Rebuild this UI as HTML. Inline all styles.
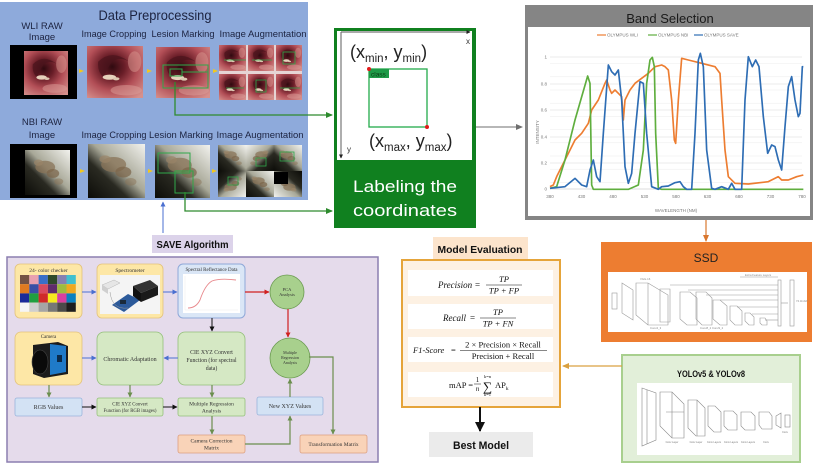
<!DOCTYPE html>
<html><head><meta charset="utf-8"><style>
html,body{margin:0;padding:0;background:#fff;}
svg{display:block}
text{font-family:"Liberation Sans",sans-serif}
.s, .s text, text.s{font-family:"Liberation Serif",serif}
</style></head><body>
<svg width="821" height="472" viewBox="0 0 821 472" xmlns="http://www.w3.org/2000/svg" xmlns:xlink="http://www.w3.org/1999/xlink">
<defs>
<marker id="ag" markerWidth="7" markerHeight="6" refX="6" refY="3" orient="auto" markerUnits="userSpaceOnUse"><path d="M0,0 L7,3 L0,6 Z" fill="#2e8b2e"/></marker>
<marker id="agr" markerWidth="7" markerHeight="6" refX="6" refY="3" orient="auto" markerUnits="userSpaceOnUse"><path d="M0,0 L7,3 L0,6 Z" fill="#6f6f6f"/></marker>
<marker id="aor" markerWidth="7" markerHeight="6" refX="6" refY="3" orient="auto" markerUnits="userSpaceOnUse"><path d="M0,0 L7,3 L0,6 Z" fill="#d9772e"/></marker>
<marker id="agd" markerWidth="7" markerHeight="6" refX="6" refY="3" orient="auto" markerUnits="userSpaceOnUse"><path d="M0,0 L7,3 L0,6 Z" fill="#d9a040"/></marker>
<marker id="abk" markerWidth="10" markerHeight="10" refX="9" refY="5" orient="auto" markerUnits="userSpaceOnUse"><path d="M0,0 L10,5 L0,10 Z" fill="#111"/></marker>
<marker id="abk2" markerWidth="5" markerHeight="5" refX="4.5" refY="2.5" orient="auto" markerUnits="userSpaceOnUse"><path d="M0,0 L5,2.5 L0,5 Z" fill="#111"/></marker>
<marker id="abl" markerWidth="5" markerHeight="5" refX="4.5" refY="2.5" orient="auto" markerUnits="userSpaceOnUse"><path d="M0,0 L5,2.5 L0,5 Z" fill="#4a6fd0"/></marker>
<marker id="ard" markerWidth="5" markerHeight="5" refX="4.5" refY="2.5" orient="auto" markerUnits="userSpaceOnUse"><path d="M0,0 L5,2.5 L0,5 Z" fill="#d02020"/></marker>
<marker id="aol" markerWidth="5" markerHeight="5" refX="4.5" refY="2.5" orient="auto" markerUnits="userSpaceOnUse"><path d="M0,0 L5,2.5 L0,5 Z" fill="#6b8e4e"/></marker>
<marker id="aax" markerWidth="4" markerHeight="4" refX="3.5" refY="2" orient="auto" markerUnits="userSpaceOnUse"><path d="M0,0 L4,2 L0,4 Z" fill="#222"/></marker>

<radialGradient id="gw" cx="0.45" cy="0.4" r="0.75">
 <stop offset="0" stop-color="#300a10"/>
 <stop offset="0.3" stop-color="#6a1e28"/>
 <stop offset="0.6" stop-color="#b24e56"/>
 <stop offset="1" stop-color="#d6908c"/>
</radialGradient>
<linearGradient id="gn" x1="0" y1="1" x2="1" y2="0">
 <stop offset="0" stop-color="#0c0c08"/>
 <stop offset="0.35" stop-color="#2a2a22"/>
 <stop offset="0.55" stop-color="#a8a898"/>
 <stop offset="1" stop-color="#f2f2ee"/>
</linearGradient>

<symbol id="wli" viewBox="0 0 100 100" preserveAspectRatio="none">
 <rect width="100" height="100" fill="url(#gw)"/>
 <path d="M20 30 Q45 5 75 30 Q60 20 45 30 Q35 45 30 60 Q18 50 20 30Z" fill="#4a141c" opacity=".7"/>
 <ellipse cx="40" cy="60" rx="12" ry="5" fill="#e6d2bc"/>
 <ellipse cx="52" cy="63" rx="6" ry="3" fill="#dcc6b0"/>
 <ellipse cx="70" cy="85" rx="28" ry="10" fill="#dca09a" opacity=".5"/>
 <ellipse cx="85" cy="30" rx="12" ry="20" fill="#d89890" opacity=".5"/>
</symbol>
<symbol id="nbi" viewBox="0 0 100 100" preserveAspectRatio="none">
 <rect width="100" height="100" fill="url(#gn)"/>
 <ellipse cx="45" cy="38" rx="22" ry="14" fill="#8a7458" opacity=".75"/>
 <ellipse cx="62" cy="52" rx="14" ry="10" fill="#7a6448" opacity=".7"/>
 <ellipse cx="30" cy="28" rx="10" ry="7" fill="#9a8468" opacity=".7"/>
 <ellipse cx="75" cy="70" rx="10" ry="7" fill="#8a7458" opacity=".5"/>
</symbol>
</defs>

<!-- ============ DATA PREPROCESSING ============ -->
<rect x="0" y="2" width="308" height="198" fill="#8eaadb"/>
<text x="155" y="20" font-size="14" text-anchor="middle" fill="#1c2340" textLength="113" lengthAdjust="spacingAndGlyphs">Data Preprocessing</text>
<g font-size="9.5" fill="#1c2340" text-anchor="middle">
 <text x="42" y="29">WLI RAW</text>
 <text x="42" y="40">Image</text>
 <text x="114" y="37" textLength="65" lengthAdjust="spacingAndGlyphs">Image Cropping</text>
 <text x="183" y="37" textLength="63" lengthAdjust="spacingAndGlyphs">Lesion Marking</text>
 <text x="263" y="37" textLength="87" lengthAdjust="spacingAndGlyphs">Image Augmentation</text>
 <text x="42" y="125">NBI RAW</text>
 <text x="42" y="138">Image</text>
 <text x="114" y="138" textLength="65" lengthAdjust="spacingAndGlyphs">Image Cropping</text>
 <text x="181" y="138" textLength="64" lengthAdjust="spacingAndGlyphs">Lesion Marking</text>
 <text x="260" y="138" textLength="87" lengthAdjust="spacingAndGlyphs">Image Augmentation</text>
</g>
<!-- row 1 -->
<rect x="10" y="45" width="67" height="54" fill="#000"/>
<use href="#wli" xlink:href="#wli" x="24" y="51" width="44" height="44"/>
<use href="#wli" xlink:href="#wli" x="87" y="46" width="56" height="52"/>
<use href="#wli" xlink:href="#wli" x="156" y="47" width="54" height="51"/>
<rect x="163" y="65" width="45" height="23" fill="none" stroke="#2fa84a" stroke-width="1"/>
<rect x="170" y="69" width="12" height="7" fill="none" stroke="#2fa84a" stroke-width="1"/>
<line x1="182" y1="72" x2="208" y2="72" stroke="#2fa84a" stroke-width="1"/>
<rect x="219" y="45" width="83" height="55" fill="#e6d4d4"/>
<use href="#wli" xlink:href="#wli" x="219" y="45" width="27" height="26"/>
<use href="#wli" xlink:href="#wli" x="248" y="45" width="26" height="26"/>
<use href="#wli" xlink:href="#wli" x="276" y="45" width="26" height="26"/>
<use href="#wli" xlink:href="#wli" x="219" y="74" width="27" height="26"/>
<use href="#wli" xlink:href="#wli" x="248" y="74" width="26" height="26"/>
<use href="#wli" xlink:href="#wli" x="276" y="74" width="26" height="26"/>
<g stroke="#2fa84a" stroke-width=".8" fill="none">
 <line x1="224" y1="60" x2="246" y2="60"/><line x1="252" y1="60" x2="272" y2="60"/>
 <rect x="283" y="52" width="12" height="12"/><line x1="226" y1="88" x2="244" y2="88"/>
 <rect x="256" y="80" width="10" height="12"/><line x1="280" y1="88" x2="300" y2="88"/>
</g>
<!-- row 2 -->
<rect x="10" y="144" width="67" height="54" fill="#000"/>
<use href="#nbi" xlink:href="#nbi" x="25" y="150" width="45" height="45"/>
<use href="#nbi" xlink:href="#nbi" x="88" y="144" width="57" height="54"/>
<use href="#nbi" xlink:href="#nbi" x="155" y="145" width="55" height="53"/>
<rect x="158" y="153" width="32" height="20" fill="none" stroke="#2fa84a" stroke-width="1"/>
<rect x="175" y="171" width="18" height="22" fill="none" stroke="#2fa84a" stroke-width="1"/>
<rect x="218" y="145" width="84" height="52" fill="#d8d8ce"/>
<use href="#nbi" xlink:href="#nbi" x="218" y="145" width="28" height="26"/>
<use href="#nbi" xlink:href="#nbi" x="246" y="145" width="28" height="26" transform="translate(520 0) scale(-1 1)"/>
<use href="#nbi" xlink:href="#nbi" x="274" y="145" width="28" height="26"/>
<use href="#nbi" xlink:href="#nbi" x="218" y="171" width="28" height="26" transform="translate(0 368) scale(1 -1)"/>
<use href="#nbi" xlink:href="#nbi" x="246" y="171" width="28" height="26"/>
<use href="#nbi" xlink:href="#nbi" x="274" y="171" width="28" height="26" transform="translate(576 368) scale(-1 -1)"/>
<rect x="274" y="172" width="14" height="12" fill="#000"/>
<g stroke="#2fa84a" stroke-width=".8" fill="none">
 <rect x="280" y="152" width="14" height="9"/><rect x="228" y="177" width="10" height="8"/><rect x="256" y="158" width="10" height="8"/>
</g>
<!-- small yellow arrows -->
<g fill="#f2c81e">
 <path d="M79 69 L84 71 L79 73Z"/><path d="M147 69 L152 71 L147 73Z"/><path d="M213 69 L218 71 L213 73Z"/>
 <path d="M80 169 L85 171 L80 173Z"/><path d="M148 169 L153 171 L148 173Z"/><path d="M212 169 L217 171 L212 173Z"/>
</g>
<!-- green connectors -->
<polyline points="175,82 175,115 332,115" fill="none" stroke="#2e8b2e" stroke-width="1.3" marker-end="url(#ag)"/>
<polyline points="185,192 185,211 332,211" fill="none" stroke="#2e8b2e" stroke-width="1.3" marker-end="url(#ag)"/>
<!-- blue up arrow from SAVE -->
<line x1="163" y1="233" x2="163" y2="202" stroke="#4a6fd0" stroke-width="1" marker-end="url(#abl)"/>

<!-- ============ LABELING BOX ============ -->
<rect x="334" y="28" width="142" height="200" fill="#10801f"/>
<rect x="337" y="31" width="135" height="129" fill="#fff"/>
<line x1="341" y1="32" x2="470" y2="32" stroke="#777" stroke-width="1.2" marker-end="url(#aax)"/>
<line x1="341" y1="32" x2="341" y2="158" stroke="#777" stroke-width="1.2" marker-end="url(#aax)"/>
<text x="466" y="44" font-size="8" fill="#333">x</text>
<text x="347" y="152" font-size="8" fill="#333">y</text>
<text x="350" y="58" font-size="18" fill="#222">(x<tspan font-size="11.5" dy="4">min</tspan><tspan dy="-4">, y</tspan><tspan font-size="11.5" dy="4">min</tspan><tspan dy="-4">)</tspan></text>
<rect x="369" y="69" width="58" height="58" fill="none" stroke="#22aa4a" stroke-width="1.3"/>
<rect x="369" y="69" width="20" height="9" fill="#1f9a48"/>
<text x="371" y="76.5" font-size="6.5" fill="#0a3a14">class</text>
<circle cx="369" cy="69" r="2" fill="#e21b1b"/>
<circle cx="427" cy="127" r="2" fill="#e21b1b"/>
<text x="369" y="147" font-size="18" fill="#222">(x<tspan font-size="11.5" dy="4">max</tspan><tspan dy="-4">, y</tspan><tspan font-size="11.5" dy="4">max</tspan><tspan dy="-4">)</tspan></text>
<text x="405" y="192" font-size="17" fill="#fff" text-anchor="middle" textLength="104" lengthAdjust="spacingAndGlyphs">Labeling the</text>
<text x="405" y="216" font-size="17" fill="#fff" text-anchor="middle" textLength="104" lengthAdjust="spacingAndGlyphs">coordinates</text>
<line x1="476" y1="127" x2="522" y2="127" stroke="#6f6f6f" stroke-width="1" marker-end="url(#agr)"/>

<!-- ============ BAND SELECTION ============ -->
<rect x="525" y="5" width="288" height="215" fill="#858585"/>
<rect x="528" y="27" width="282" height="189" fill="#fff"/>
<text x="670" y="23" font-size="13" text-anchor="middle" fill="#1a1a1a">Band Selection</text>
<g font-size="4.5" fill="#777">
 <line x1="597" y1="35" x2="606" y2="35" stroke="#ed7d31" stroke-width="1.2"/><text x="607" y="36.5">OLYMPUS WLI</text>
 <line x1="648" y1="35" x2="657" y2="35" stroke="#5fae3e" stroke-width="1.2"/><text x="658" y="36.5">OLYMPUS NBI</text>
 <line x1="694" y1="35" x2="703" y2="35" stroke="#2e6db4" stroke-width="1.2"/><text x="704" y="36.5">OLYMPUS SAVE</text>
</g>
<g stroke="#ececec" stroke-width=".5">
 <line x1="550" y1="182.4" x2="802" y2="182.4"/><line x1="550" y1="169.2" x2="802" y2="169.2"/>
 <line x1="550" y1="156" x2="802" y2="156"/><line x1="550" y1="142.8" x2="802" y2="142.8"/>
 <line x1="550" y1="129.6" x2="802" y2="129.6"/><line x1="550" y1="116.4" x2="802" y2="116.4"/>
 <line x1="550" y1="103.2" x2="802" y2="103.2"/><line x1="550" y1="90" x2="802" y2="90"/>
 <line x1="550" y1="76.8" x2="802" y2="76.8"/><line x1="550" y1="63.6" x2="802" y2="63.6"/>
</g>
<g stroke="#d8d8d8" stroke-width=".6">
 <line x1="550" y1="57" x2="802" y2="57"/><line x1="550" y1="84" x2="802" y2="84"/>
 <line x1="550" y1="110" x2="802" y2="110"/><line x1="550" y1="137" x2="802" y2="137"/>
 <line x1="550" y1="163" x2="802" y2="163"/>
</g>
<line x1="550" y1="189" x2="802" y2="189" stroke="#bbb" stroke-width=".6"/>
<g font-size="4.5" fill="#777" text-anchor="end">
 <text x="547" y="58.5">1</text><text x="547" y="85.5">0.8</text><text x="547" y="111.5">0.6</text>
 <text x="547" y="138.5">0.4</text><text x="547" y="164.5">0.2</text><text x="547" y="190.5">0</text>
</g>
<g font-size="4.5" fill="#777" text-anchor="middle">
 <text x="550" y="198">380</text><text x="581.5" y="198">430</text><text x="613" y="198">480</text>
 <text x="644.5" y="198">530</text><text x="676" y="198">580</text><text x="707.5" y="198">630</text>
 <text x="739" y="198">680</text><text x="770.5" y="198">730</text><text x="802" y="198">780</text>
 <text x="676" y="212">WAVELENGTH (NM)</text>
</g>
<text x="0" y="0" font-size="4.5" fill="#777" text-anchor="middle" transform="translate(539 132) rotate(-90)">INTENSITY</text>
<g transform="translate(515 0) scale(0.33333)" fill="none" stroke-width="5" stroke-linejoin="round">
<polyline stroke="#ed7d31" points="105,560 115,555 125,530 140,500 160,460 180,420 200,400 220,370 230,330 250,300 270,250 275,240 285,270 290,280 300,270 310,280 320,290 325,360 330,300 345,270 360,250 380,235 400,220 420,200 440,195 450,200 460,210 470,300 478,420 482,430 490,300 500,175 520,180 560,190 600,200 615,220 620,300 630,450 640,530 660,550 700,552 760,545 790,530 800,540 820,540 845,530 865,525"/>
<polyline stroke="#5fae3e" points="105,565 125,560 150,480 180,360 218,228 225,250 230,555 235,568 340,568 370,555 385,450 395,250 405,180 412,172 418,200 422,400 430,565 440,568 865,568"/>
<polyline stroke="#2e6db4" points="105,565 150,560 180,535 200,555 215,560 225,510 235,480 245,530 255,545 265,400 280,195 290,215 300,225 310,210 320,300 330,500 340,550 350,520 360,400 375,245 385,250 395,400 410,560 430,568 440,560 460,558 480,548 495,545 505,560 515,568 530,568 540,400 550,180 556,160 565,200 575,450 590,565 600,568 620,560 640,568 650,550 660,568 680,568 690,300 700,170 712,200 722,180 732,200 745,350 758,460 770,435 780,440 790,480 800,510 810,380 820,260 830,230 840,300 850,350 855,340 862,200 865,200"/>
</g>
<line x1="706" y1="220" x2="706" y2="241" stroke="#d9772e" stroke-width="1.2" marker-end="url(#aor)"/>

<!-- ============ SSD ============ -->
<rect x="601" y="242" width="211" height="100" fill="#ed7d31"/>
<text x="706" y="262" font-size="12" text-anchor="middle" fill="#222">SSD</text>
<rect x="608" y="272" width="199" height="60" fill="#fff"/>
<g stroke="#999" stroke-width=".6" fill="none">
 <rect x="612" y="293" width="5" height="16"/>
 <polygon points="622,283 633,290 633,320 622,313"/>
 <polygon points="636,283 648,283 668,295 668,325 648,325 636,315"/>
 <line x1="648" y1="283" x2="648" y2="325"/>
 <polygon points="660,289 670,289 670,322 660,322"/>
 <polygon points="680,292 690,292 697,298 697,325 687,325 680,319"/>
 <polygon points="696,292 706,292 712,298 712,325 702,325 696,319"/>
 <polygon points="713,300 720,300 727,306 727,325 720,325 713,319"/>
 <polygon points="730,306 737,306 742,311 742,325 735,325 730,320"/>
 <polygon points="745,313 750,313 754,317 754,325 749,325 745,321"/>
 <polygon points="760,318 765,318 767,321 767,325 762,325 760,323"/>
 <line x1="670" y1="285" x2="778" y2="285"/><line x1="688" y1="290" x2="778" y2="290"/>
 <line x1="706" y1="295" x2="778" y2="295"/><line x1="720" y1="300" x2="778" y2="300"/>
 <line x1="737" y1="307" x2="778" y2="307"/><line x1="752" y1="314" x2="778" y2="314"/>
 <line x1="765" y1="320" x2="778" y2="320"/>
 <rect x="778" y="280" width="3" height="46"/>
 <line x1="781" y1="303" x2="788" y2="303"/>
 <rect x="790" y="280" width="4" height="46"/>
 <line x1="740" y1="277" x2="778" y2="277"/>
</g>
<g font-size="2.8" fill="#888">
 <text x="640" y="280">VGG-16</text><text x="745" y="276">Extra Feature Layers</text>
 <text x="796" y="302">74.3mAP</text><text x="650" y="329">Conv4_3</text><text x="700" y="329">Conv8_2 Conv9_2</text>
</g>

<!-- ============ YOLO ============ -->
<rect x="622" y="355" width="178" height="107" fill="#e2efd9" stroke="#a8cf8e" stroke-width="2"/>
<text x="711" y="377" font-size="9.5" font-weight="bold" text-anchor="middle" fill="#111" textLength="68" lengthAdjust="spacingAndGlyphs">YOLOv5 &amp; YOLOv8</text>
<rect x="637" y="383" width="155" height="72" fill="#fff"/>
<g stroke="#888" stroke-width=".6" fill="none">
 <polygon points="642,388 656,393 656,440 642,446"/>
 <line x1="647" y1="390" x2="647" y2="444"/>
 <polygon points="660,392 672,392 684,404 684,438 672,438 660,426"/>
 <line x1="672" y1="392" x2="672" y2="438"/>
 <line x1="666" y1="412" x2="684" y2="412"/>
 <polygon points="688,400 697,400 705,408 705,436 696,436 688,428"/>
 <line x1="697" y1="400" x2="697" y2="436"/>
 <polygon points="708,406 715,406 721,412 721,432 714,432 708,426"/>
 <polygon points="724,411 733,411 737,415 737,430 728,430 724,426"/>
 <polygon points="741,412 751,412 755,416 755,430 745,430 741,426"/>
 <polygon points="759,412 769,412 772,416 772,429 762,429 759,425"/>
 <polygon points="776,416 781,413 781,428 776,425"/>
 <rect x="785" y="415" width="5" height="12"/>
</g>
<g font-size="2.5" fill="#777" text-anchor="middle">
 <text x="672" y="443">Conv Layer</text><text x="696" y="443">Conv Layer</text><text x="714" y="443">Conv Layers</text>
 <text x="731" y="443">Conv Layers</text><text x="748" y="443">Conv Layers</text><text x="766" y="443">Conv</text><text x="785" y="433">Conv</text>
</g>
<line x1="622" y1="366" x2="563" y2="366" stroke="#d9a040" stroke-width="1.2" marker-end="url(#agd)"/>

<!-- ============ MODEL EVALUATION ============ -->
<rect x="433" y="237" width="95" height="23" fill="#fce4cc"/>
<text x="480" y="253" font-size="10.5" font-weight="bold" text-anchor="middle" fill="#111" textLength="85" lengthAdjust="spacingAndGlyphs">Model Evaluation</text>
<rect x="402" y="260" width="158" height="147" fill="#fdf1e3" stroke="#e5a43a" stroke-width="2"/>
<rect x="408" y="270" width="145" height="26" fill="#fff"/>
<rect x="408" y="304" width="145" height="25" fill="#fff"/>
<rect x="408" y="337" width="145" height="25" fill="#fff"/>
<rect x="408" y="372" width="145" height="25" fill="#fff"/>
<g class="s" fill="#111">
 <text x="438" y="288" font-size="9" font-style="italic">Precision</text>
 <text x="475" y="288" font-size="9">=</text>
 <text x="504" y="282" font-size="8.5" font-style="italic" text-anchor="middle">TP</text>
 <line x1="486" y1="285" x2="522" y2="285" stroke="#111" stroke-width=".6"/>
 <text x="504" y="293.5" font-size="8.5" font-style="italic" text-anchor="middle">TP + FP</text>

 <text x="443" y="321" font-size="9" font-style="italic">Recall</text>
 <text x="470" y="321" font-size="9">=</text>
 <text x="498" y="315" font-size="8.5" font-style="italic" text-anchor="middle">TP</text>
 <line x1="480" y1="318" x2="516" y2="318" stroke="#111" stroke-width=".6"/>
 <text x="498" y="326.5" font-size="8.5" font-style="italic" text-anchor="middle">TP + FN</text>

 <text x="413" y="353" font-size="8.5" font-style="italic">F1-Score</text>
 <text x="451" y="353" font-size="8.5">=</text>
 <text x="503" y="347.5" font-size="8.5" text-anchor="middle">2 × Precision × Recall</text>
 <line x1="460" y1="350.5" x2="547" y2="350.5" stroke="#111" stroke-width=".6"/>
 <text x="503" y="359" font-size="8.5" text-anchor="middle">Precision + Recall</text>

 <text x="449" y="388" font-size="8.5">mAP =</text>
 <text x="477.5" y="382" font-size="7" text-anchor="middle">1</text>
 <line x1="474" y1="384" x2="481" y2="384" stroke="#111" stroke-width=".5"/>
 <text x="477.5" y="391" font-size="7" font-style="italic" text-anchor="middle">n</text>
 <text x="487.5" y="391" font-size="13" text-anchor="middle">∑</text>
 <text x="487.5" y="378" font-size="4.5" text-anchor="middle">k=n</text>
 <text x="487.5" y="396" font-size="4.5" text-anchor="middle">k=1</text>
 <text x="495" y="388" font-size="8.5">AP<tspan font-size="5.5" dy="2">k</tspan></text>
</g>
<line x1="480" y1="407" x2="480" y2="431" stroke="#111" stroke-width="2" marker-end="url(#abk)"/>
<rect x="429" y="432" width="104" height="25" fill="#ebebeb"/>
<text x="481" y="449" font-size="11" font-weight="bold" text-anchor="middle" fill="#111" textLength="56" lengthAdjust="spacingAndGlyphs">Best Model</text>

<!-- ============ SAVE ALGORITHM ============ -->
<rect x="152" y="235" width="81" height="18" fill="#dcd3ea"/>
<text x="192.5" y="248" font-size="10.5" font-weight="bold" text-anchor="middle" fill="#111" textLength="72" lengthAdjust="spacingAndGlyphs">SAVE Algorithm</text>
<rect x="7" y="257" width="371" height="205" fill="#e5dbeb" stroke="#8c7fb0" stroke-width="1.5"/>

<rect x="15" y="264" width="67" height="54" rx="5" fill="#fde7a6" stroke="#e3c27a" stroke-width=".8"/>
<text x="48.5" y="272" class="s" font-size="5.5" text-anchor="middle" fill="#333">24- color checker</text>
<g>
 <rect x="20" y="275" width="9.3" height="9.2" fill="#735244"/><rect x="29.3" y="275" width="9.3" height="9.2" fill="#e8a0b0"/><rect x="38.6" y="275" width="9.3" height="9.2" fill="#3a6fc8"/><rect x="47.9" y="275" width="9.3" height="9.2" fill="#2f4a2a"/><rect x="57.2" y="275" width="9.3" height="9.2" fill="#8580b1"/><rect x="66.5" y="275" width="9.3" height="9.2" fill="#40c0d0"/>
 <rect x="20" y="284.2" width="9.3" height="9.2" fill="#e07a20"/><rect x="29.3" y="284.2" width="9.3" height="9.2" fill="#3a4fa6"/><rect x="38.6" y="284.2" width="9.3" height="9.2" fill="#d84a60"/><rect x="47.9" y="284.2" width="9.3" height="9.2" fill="#5e2c6c"/><rect x="57.2" y="284.2" width="9.3" height="9.2" fill="#9dbc40"/><rect x="66.5" y="284.2" width="9.3" height="9.2" fill="#f0a820"/>
 <rect x="20" y="293.4" width="9.3" height="9.2" fill="#1a2a9a"/><rect x="29.3" y="293.4" width="9.3" height="9.2" fill="#20a040"/><rect x="38.6" y="293.4" width="9.3" height="9.2" fill="#d02a2a"/><rect x="47.9" y="293.4" width="9.3" height="9.2" fill="#f6ea20"/><rect x="57.2" y="293.4" width="9.3" height="9.2" fill="#d840a0"/><rect x="66.5" y="293.4" width="9.3" height="9.2" fill="#0a80c0"/>
 <rect x="20" y="302.6" width="9.3" height="9.2" fill="#f5f5f5"/><rect x="29.3" y="302.6" width="9.3" height="9.2" fill="#cfcfcf"/><rect x="38.6" y="302.6" width="9.3" height="9.2" fill="#a5a5a5"/><rect x="47.9" y="302.6" width="9.3" height="9.2" fill="#777"/><rect x="57.2" y="302.6" width="9.3" height="9.2" fill="#4a4a4a"/><rect x="66.5" y="302.6" width="9.3" height="9.2" fill="#1e1e1e"/>
</g>

<rect x="97" y="264" width="66" height="54" rx="5" fill="#fde7a6" stroke="#e3c27a" stroke-width=".8"/>
<text x="130" y="272" class="s" font-size="5.5" text-anchor="middle" fill="#333">Spectrometer</text>
<rect x="100" y="275" width="60" height="39" fill="#f4f4f4"/>
<polygon points="102,285 114,280 120,283 108,289" fill="#e6e6e6" stroke="#aaa" stroke-width=".4"/>
<polygon points="102,285 108,289 108,294 102,290" fill="#cfcfcf"/>
<polygon points="112,305 128,294 140,300 124,312" fill="#2c5a9a"/>
<rect x="120" y="300" width="6" height="4" fill="#1a2a3a"/>
<polygon points="133,286 150,280 158,286 141,293" fill="#333"/>
<polygon points="133,286 141,293 141,302 133,296" fill="#111"/>
<polygon points="141,293 158,286 158,295 141,302" fill="#1a1a1a"/>
<path d="M110 292 Q112 310 128 308" stroke="#999" stroke-width=".5" fill="none"/>

<rect x="178" y="264" width="67" height="54" rx="5" fill="#dae6f6" stroke="#8fa8d8" stroke-width="1"/>
<text x="211.5" y="271" class="s" font-size="5" text-anchor="middle" fill="#333">Spectral Reflectance Data</text>
<rect x="183" y="274" width="57" height="39" fill="#fff"/>
<g stroke="#ddd" stroke-width=".3"><line x1="185" y1="276" x2="185" y2="310"/><line x1="185" y1="310" x2="238" y2="310"/></g>
<path d="M188 308 Q196 308 200 300 Q205 285 212 281 Q220 278 236 280" stroke="#e8888c" stroke-width=".9" fill="none"/>

<circle cx="287" cy="292" r="17" fill="#a8d08d" stroke="#6a9a50" stroke-width=".8"/>
<text x="287" y="291" class="s" font-size="4.5" text-anchor="middle" fill="#333">PCA</text>
<text x="287" y="296" class="s" font-size="4.5" text-anchor="middle" fill="#333">Analysis</text>

<rect x="15" y="332" width="67" height="53" rx="6" fill="#fde7a6" stroke="#e3c27a" stroke-width=".8"/>
<text x="48.5" y="338" class="s" font-size="5" text-anchor="middle" fill="#333">Camera</text>
<polygon points="33,345 58,342 68,346 68,374 44,378 33,374" fill="#1c1c1c"/>
<polygon points="50,344 66,346 66,372 50,375" fill="#1f7ac8"/>
<rect x="57" y="355" width="5" height="7" fill="#0a2a4a"/>
<ellipse cx="40" cy="362" rx="8" ry="12" fill="#0a0a0a" stroke="#444" stroke-width=".6"/>

<rect x="97" y="332" width="66" height="53" rx="7" fill="#d5e8c4" stroke="#94c07a" stroke-width=".8"/>
<text x="130" y="361" class="s" font-size="6" text-anchor="middle" fill="#333">Chromatic Adaptation</text>

<rect x="178" y="332" width="67" height="53" rx="7" fill="#d5e8c4" stroke="#94c07a" stroke-width=".8"/>
<g class="s" font-size="5.8" text-anchor="middle" fill="#333">
 <text x="211.5" y="354">CIE XYZ Convert</text>
 <text x="211.5" y="362">Function (for spectral</text>
 <text x="211.5" y="370">data)</text>
</g>

<circle cx="290" cy="358" r="20" fill="#a8d08d" stroke="#6a9a50" stroke-width=".8"/>
<g class="s" font-size="4" text-anchor="middle" fill="#333">
 <text x="290" y="354">Multiple</text><text x="290" y="359">Regression</text><text x="290" y="364">Analysis</text>
</g>

<rect x="15" y="398" width="67" height="18" rx="2" fill="#d3e2f4" stroke="#9ab4dc" stroke-width=".8"/>
<text x="48.5" y="409" class="s" font-size="6" text-anchor="middle" fill="#333">RGB Values</text>
<rect x="97" y="398" width="66" height="18" rx="2" fill="#d5e8c4" stroke="#94c07a" stroke-width=".8"/>
<text x="130" y="405.5" class="s" font-size="4.8" text-anchor="middle" fill="#333">CIE XYZ Convert</text>
<text x="130" y="412" class="s" font-size="4.8" text-anchor="middle" fill="#333">Function (for RGB images)</text>
<rect x="178" y="398" width="67" height="18" rx="2" fill="#d5e8c4" stroke="#94c07a" stroke-width=".8"/>
<text x="211.5" y="405.5" class="s" font-size="5.5" text-anchor="middle" fill="#333">Multiple Regression</text>
<text x="211.5" y="412.5" class="s" font-size="5.5" text-anchor="middle" fill="#333">Analysis</text>
<rect x="257" y="397" width="66" height="18" rx="2" fill="#d3e2f4" stroke="#9ab4dc" stroke-width=".8"/>
<text x="290" y="408" class="s" font-size="6" text-anchor="middle" fill="#333">New XYZ Values</text>
<rect x="178" y="435" width="67" height="18" rx="2" fill="#f9d3b8" stroke="#dca080" stroke-width=".8"/>
<text x="211.5" y="442.5" class="s" font-size="5.5" text-anchor="middle" fill="#333">Camera Correction</text>
<text x="211.5" y="449.5" class="s" font-size="5.5" text-anchor="middle" fill="#333">Matrix</text>
<rect x="300" y="435" width="67" height="18" rx="2" fill="#f9d3b8" stroke="#dca080" stroke-width=".8"/>
<text x="333.5" y="446" class="s" font-size="5.5" text-anchor="middle" fill="#333">Transformation Matrix</text>

<line x1="82" y1="292" x2="96" y2="292" stroke="#4a6fd0" stroke-width="1" marker-end="url(#abl)"/>
<line x1="163" y1="292" x2="177" y2="292" stroke="#4a6fd0" stroke-width="1" marker-end="url(#abl)"/>
<line x1="245" y1="292" x2="269" y2="292" stroke="#d02020" stroke-width="1.2" marker-end="url(#ard)"/>
<line x1="212" y1="318" x2="212" y2="331" stroke="#111" stroke-width="1" marker-end="url(#abk2)"/>
<line x1="288" y1="309" x2="288" y2="337" stroke="#d02020" stroke-width="1.2" marker-end="url(#ard)"/>
<line x1="82" y1="358" x2="96" y2="358" stroke="#4a6fd0" stroke-width="1" marker-end="url(#abl)"/>
<line x1="178" y1="358" x2="164" y2="358" stroke="#4a6fd0" stroke-width="1" marker-end="url(#abl)"/>
<line x1="49" y1="385" x2="49" y2="397" stroke="#6b8e4e" stroke-width="1.2" marker-end="url(#aol)"/>
<line x1="130" y1="385" x2="130" y2="397" stroke="#6b8e4e" stroke-width="1.2" marker-end="url(#aol)"/>
<line x1="212" y1="385" x2="212" y2="397" stroke="#6b8e4e" stroke-width="1.2" marker-end="url(#aol)"/>
<line x1="82" y1="407" x2="96" y2="407" stroke="#111" stroke-width="1" marker-end="url(#abk2)"/>
<line x1="163" y1="407" x2="177" y2="407" stroke="#111" stroke-width="1" marker-end="url(#abk2)"/>
<line x1="212" y1="416" x2="212" y2="434" stroke="#6b8e4e" stroke-width="1.2" marker-end="url(#aol)"/>
<polyline points="245,444 290,444 290,416" fill="none" stroke="#6b8e4e" stroke-width="1.2" marker-end="url(#aol)"/>
<line x1="290" y1="397" x2="290" y2="379" stroke="#6b8e4e" stroke-width="1.2" marker-end="url(#aol)"/>
<polyline points="309,357 333,357 333,434" fill="none" stroke="#6b8e4e" stroke-width="1.2" marker-end="url(#aol)"/>
</svg>
</body></html>
